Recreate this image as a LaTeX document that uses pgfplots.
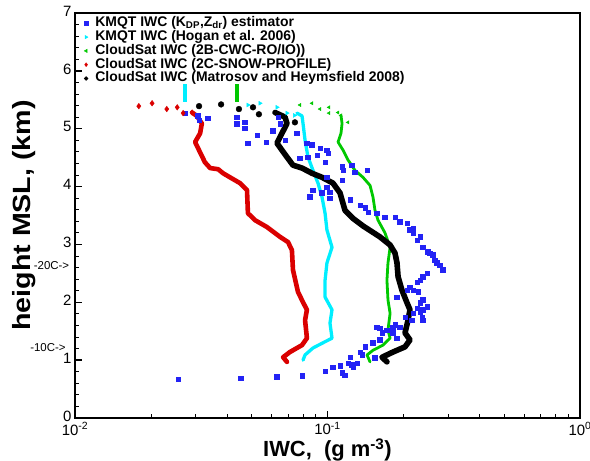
\documentclass[border=0pt]{standalone}
\usepackage{fontspec}
\setmainfont{Liberation Sans}
\usepackage{pgfplots}
\pgfplotsset{compat=1.18}
\definecolor{kblue}{RGB}{35,35,245}
\definecolor{kcyan}{RGB}{0,238,255}
\definecolor{kgreen}{RGB}{0,200,0}
\definecolor{kred}{RGB}{218,0,0}
\begin{document}
\begin{tikzpicture}
\begin{axis}[name=ax, scale only axis, width=505bp, height=405bp,
  xmode=log, xmin=0.01, xmax=1, ymin=0, ymax=7, clip=false,
  xtick={0.01,0.1,1},
  xticklabels={10\textsuperscript{-2},10\textsuperscript{-1},10\textsuperscript{0}},
  minor xtick={0.02,0.03,0.04,0.05,0.06,0.07,0.08,0.09,0.2,0.3,0.4,0.5,0.6,0.7,0.8,0.9},
  ytick={0,1,2,3,4,5,6,7}, minor y tick num=4,
  tick pos=left, tick align=inside,
  major tick length=7bp, minor tick length=4bp,
  every major tick/.append style={black, line width=1.4bp},
  every minor tick/.append style={black, line width=0.9bp},
  axis line style={line width=2bp},
  /pgf/number format/assume math mode=true,
  ticklabel style={font=\fontsize{15}{15}\selectfont},
  xticklabel style={yshift=-1bp},
  yticklabel style={yshift=2bp},
  xlabel={IWC,\ \ (g m\textsuperscript{-3})},
  xlabel style={font=\fontsize{22}{22}\selectfont\bfseries, at={(axis description cs:0.5,-0.079)}, anchor=center},
  ylabel={\scalebox{1.15}[1]{height MSL, (km)}},
  ylabel style={font=\fontsize{25}{25}\selectfont\bfseries, at={(axis description cs:-0.1,0.5)}, anchor=center},
  legend style={draw=none, fill=none, at={(0.012,0.997)}, anchor=north west,
    font=\fontsize{14}{14}\selectfont\bfseries,
    nodes={inner sep=0.3bp, text height=10bp, text depth=3.2bp}, row sep=0pt,
    /tikz/every odd column/.append style={column sep=7bp}},
  legend cell align=left,
  legend image code/.code={\draw[#1] plot coordinates {(0bp,0bp)};},
  legend image post style={mark size=1.9bp},
]
% blue scatter
\addplot[only marks, mark=square*, mark size=2.3bp, color=kblue] coordinates {
(0.0256,0.67) (0.0454,0.69) (0.0631,0.71) (0.0793,0.73) (0.0978,0.81) (0.1051,0.88) (0.1121,0.90) (0.1142,0.78) (0.1173,0.74) (0.1206,0.95) (0.1262,0.88) (0.1309,0.95) (0.1228,1.05) (0.1250,0.92) (0.1345,1.14) (0.1370,1.09) (0.1408,1.23) (0.1514,1.30) (0.1542,1.04) (0.1614,1.35) (0.1570,1.57) (0.1644,1.47) (0.1851,1.61) (0.1817,1.47) (0.1885,1.38) (0.1614,1.55) (0.1720,1.52) (0.1817,1.57) (0.1937,1.57) (0.2028,1.74) (0.2161,1.69) (0.2389,1.69) (0.2181,1.81) (0.2389,1.87) (0.2325,1.99) (0.2478,1.92) (0.2262,1.90) (0.2368,1.73) (0.2325,1.83) (0.2389,2.04) (0.2283,2.18) (0.2181,2.21) (0.2122,2.26) (0.2065,2.21) (0.2262,2.35) (0.2325,2.38) (0.2389,2.44) (0.2478,2.50) (0.1885,2.09) (0.2867,2.56) (0.2789,2.64) (0.2665,2.73) (0.2714,2.68) (0.2546,2.85) (0.2617,2.82) (0.2500,2.87) (0.2389,2.95) (0.2325,3.13) (0.2262,3.07) (0.2181,3.20) (0.2122,3.25) (0.2181,3.28) (0.2065,3.37) (0.1937,3.39) (0.1851,3.47) (0.1689,3.47) (0.1570,3.54) (0.1447,3.56) (0.1408,3.63) (0.1345,3.68) (0.1228,3.77) (0.1023,3.80) (0.0852,3.82) (0.0951,3.89) (0.1023,3.90) (0.0995,3.99) (0.0876,3.94) (0.1142,4.11) (0.0995,4.16) (0.1434,4.28) (0.1285,4.25) (0.1152,4.28) (0.1250,4.37) (0.1142,4.34) (0.0978,4.42) (0.0778,4.49) (0.0837,4.51) (0.0909,4.54) (0.1005,4.58) (0.0995,4.63) (0.0934,4.66) (0.0868,4.72) (0.0829,4.75) (0.0757,4.92) (0.0679,4.80) (0.0649,5.09) (0.0608,4.97) (0.0571,4.77) (0.0526,4.89) (0.0484,4.75) (0.0471,5.01) (0.0471,5.11) (0.0438,5.09) (0.0438,5.20) (0.0336,5.18) (0.0310,5.15) (0.0273,5.27) (0.0307,5.23) (0.0637,5.20)
};
\addlegendentry{KMQT IWC (K\textsubscript{DP},Z\textsubscript{dr}) estimator}
% cyan
\addplot[forget plot, kcyan, line width=3.3bp, line join=round, line cap=round] coordinates {
(0.0757,5.27) (0.0793,5.22) (0.0800,5.09) (0.0815,4.80) (0.0837,4.51) (0.0876,4.28) (0.0917,4.06) (0.0951,3.82) (0.0978,3.54) (0.0995,3.25) (0.1042,2.95) (0.0995,2.68) (0.0978,2.38) (0.0978,2.09) (0.1042,1.87) (0.1023,1.64) (0.1042,1.38) (0.0960,1.30) (0.0876,1.21) (0.0815,1.09) (0.0800,1.00)
};
\addplot[forget plot, kcyan, line width=3.8bp] coordinates {(0.0273,5.47) (0.0273,5.78)};
\addplot[only marks, mark=triangle*, mark size=2.3bp, color=kcyan, mark options={rotate=-90}] coordinates {
(0.0484,5.41) (0.0540,5.44) (0.0631,5.37) (0.0691,5.27) (0.0740,5.23)
};
\addlegendentry{KMQT IWC (Hogan et al. 2006)}
% green
\addplot[forget plot, kgreen, line width=2.8bp, line join=round, line cap=round] coordinates {
(0.1131,5.23) (0.1142,5.09) (0.1131,4.92) (0.1101,4.77) (0.1152,4.63) (0.1206,4.46) (0.1285,4.28) (0.1382,4.16) (0.1474,4.02) (0.1514,3.82) (0.1542,3.59) (0.1585,3.42) (0.1689,3.20) (0.1770,2.95) (0.1736,2.68) (0.1720,2.38) (0.1736,2.04) (0.1770,1.81) (0.1736,1.52) (0.1770,1.38) (0.1659,1.26) (0.1514,1.17) (0.1434,1.09) (0.1474,0.97)
};
\addplot[forget plot, kgreen, line width=3.2bp] coordinates {(0.0438,5.47) (0.0438,5.78)};
\addplot[only marks, mark=triangle*, mark size=1.9bp, color=kgreen, mark options={rotate=90}] coordinates {
(0.0778,5.41) (0.0868,5.44) (0.0934,5.34) (0.1014,5.37) (0.1014,5.27) (0.1101,5.28) (0.1131,5.23) (0.1206,5.11)
};
\addlegendentry{CloudSat IWC (2B-CWC-RO/IO))}
% red
\addplot[forget plot, kred, line width=4.6bp, line join=round, line cap=round] coordinates {
(0.0291,5.28) (0.0304,5.22) (0.0318,5.09) (0.0313,4.92) (0.0299,4.77) (0.0313,4.59) (0.0327,4.42) (0.0343,4.32) (0.0369,4.30) (0.0386,4.23) (0.0411,4.16) (0.0450,4.06) (0.0480,3.94) (0.0484,3.54) (0.0516,3.42) (0.0576,3.30) (0.0649,3.13) (0.0698,3.04) (0.0723,2.90) (0.0730,2.56) (0.0764,2.18) (0.0800,2.00) (0.0829,1.87) (0.0815,1.69) (0.0829,1.38) (0.0793,1.26) (0.0710,1.14) (0.0667,1.05) (0.0691,0.97)
};
\addplot[only marks, mark=diamond*, mark size=2.8bp, color=kred] coordinates {
(0.0179,5.39) (0.0202,5.44) (0.0231,5.34) (0.0254,5.37) (0.0268,5.27) (0.0291,5.28)
};
\addlegendentry{CloudSat IWC (2C-SNOW-PROFILE)}
% black
\addplot[forget plot, black, line width=5.6bp, line join=round, line cap=round] coordinates {
(0.0620,5.28) (0.0679,5.20) (0.0691,5.09) (0.0660,4.92) (0.0631,4.75) (0.0660,4.63) (0.0691,4.51) (0.0730,4.37) (0.0793,4.32) (0.0868,4.23) (0.0951,4.16) (0.1051,4.06) (0.1121,3.89) (0.1173,3.59) (0.1262,3.45) (0.1382,3.32) (0.1614,3.13) (0.1770,2.99) (0.1851,2.85) (0.1885,2.68) (0.1904,2.44) (0.1972,2.21) (0.2065,1.99) (0.2122,1.87) (0.2084,1.69) (0.2028,1.47) (0.2122,1.35) (0.2028,1.23) (0.1817,1.14) (0.1644,1.05) (0.1720,0.97)
};
\addplot[only marks, mark=*, mark size=2.9bp, color=black] coordinates {
(0.0310,5.39) (0.0379,5.42) (0.0446,5.34) (0.0507,5.37) (0.0535,5.25) (0.0743,5.11)
};
\addlegendentry{CloudSat IWC (Matrosov and Heymsfield 2008)}
\node[anchor=east, font=\fontsize{11.5}{11.5}\selectfont, inner sep=0pt] at (axis cs:0.0095,2.64) {-20C->};
\node[anchor=east, font=\fontsize{11.5}{11.5}\selectfont, inner sep=0pt] at (axis cs:0.0092,1.21) {-10C->};
\end{axis}
\pgfresetboundingbox
\path[use as bounding box] ([xshift=-75bp,yshift=-43bp]ax.south west) rectangle ([xshift=10bp,yshift=13bp]ax.north east);
\end{tikzpicture}
\end{document}
